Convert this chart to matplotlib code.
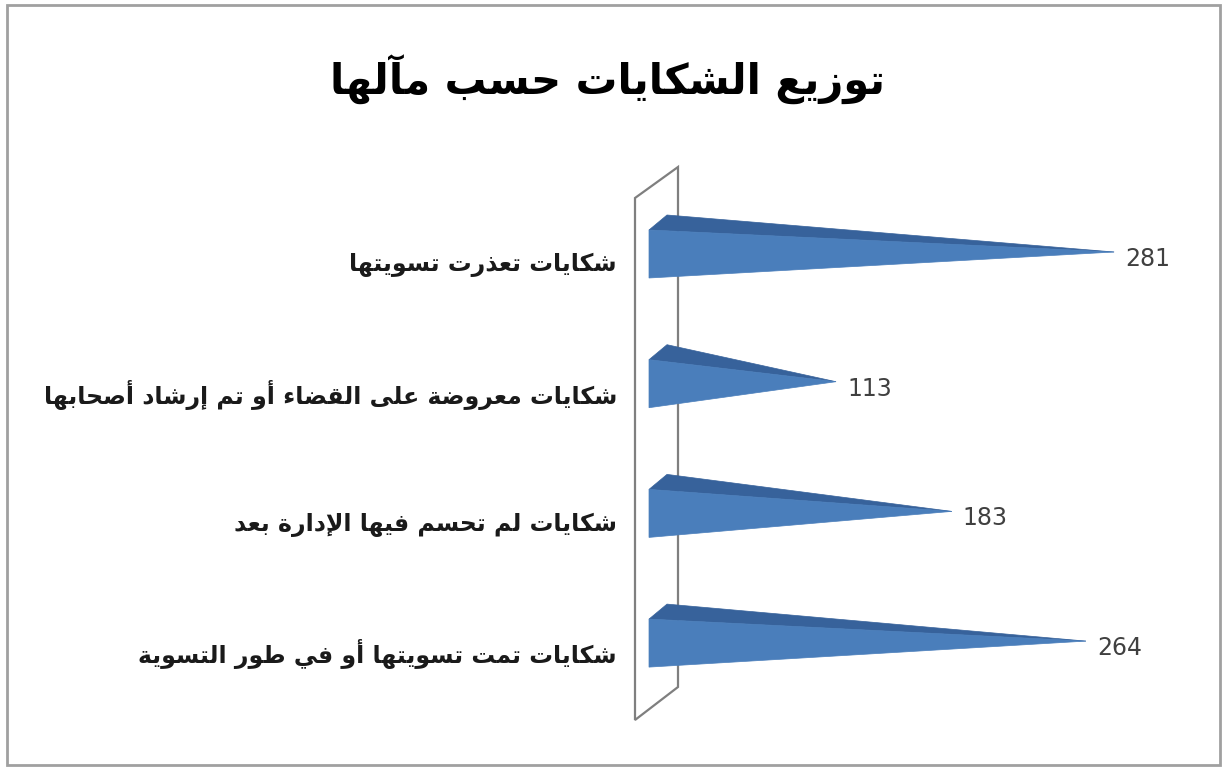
import matplotlib
matplotlib.use("Agg")
import matplotlib.pyplot as plt
from matplotlib.patches import Polygon, Rectangle

# ---------------- data ----------------
title = "توزيع الشكايات حسب مآلها"
categories = [
    "شكايات تعذرت تسويتها",
    "شكايات معروضة على القضاء أو تم إرشاد أصحابها",
    "شكايات لم تحسم فيها الإدارة بعد",
    "شكايات تمت تسويتها أو في طور التسوية",
]
values = [281, 113, 183, 264]

# ---------------- minimal Arabic shaping (matplotlib has no text shaping) ----------------
FORMS = {
    '\u0621': ('\uFE80', None, None, None),
    '\u0622': ('\uFE81', '\uFE82', None, None),
    '\u0623': ('\uFE83', '\uFE84', None, None),
    '\u0624': ('\uFE85', '\uFE86', None, None),
    '\u0625': ('\uFE87', '\uFE88', None, None),
    '\u0626': ('\uFE89', '\uFE8A', '\uFE8B', '\uFE8C'),
    '\u0627': ('\uFE8D', '\uFE8E', None, None),
    '\u0628': ('\uFE8F', '\uFE90', '\uFE91', '\uFE92'),
    '\u0629': ('\uFE93', '\uFE94', None, None),
    '\u062A': ('\uFE95', '\uFE96', '\uFE97', '\uFE98'),
    '\u062B': ('\uFE99', '\uFE9A', '\uFE9B', '\uFE9C'),
    '\u062C': ('\uFE9D', '\uFE9E', '\uFE9F', '\uFEA0'),
    '\u062D': ('\uFEA1', '\uFEA2', '\uFEA3', '\uFEA4'),
    '\u062E': ('\uFEA5', '\uFEA6', '\uFEA7', '\uFEA8'),
    '\u062F': ('\uFEA9', '\uFEAA', None, None),
    '\u0630': ('\uFEAB', '\uFEAC', None, None),
    '\u0631': ('\uFEAD', '\uFEAE', None, None),
    '\u0632': ('\uFEAF', '\uFEB0', None, None),
    '\u0633': ('\uFEB1', '\uFEB2', '\uFEB3', '\uFEB4'),
    '\u0634': ('\uFEB5', '\uFEB6', '\uFEB7', '\uFEB8'),
    '\u0635': ('\uFEB9', '\uFEBA', '\uFEBB', '\uFEBC'),
    '\u0636': ('\uFEBD', '\uFEBE', '\uFEBF', '\uFEC0'),
    '\u0637': ('\uFEC1', '\uFEC2', '\uFEC3', '\uFEC4'),
    '\u0638': ('\uFEC5', '\uFEC6', '\uFEC7', '\uFEC8'),
    '\u0639': ('\uFEC9', '\uFECA', '\uFECB', '\uFECC'),
    '\u063A': ('\uFECD', '\uFECE', '\uFECF', '\uFED0'),
    '\u0641': ('\uFED1', '\uFED2', '\uFED3', '\uFED4'),
    '\u0642': ('\uFED5', '\uFED6', '\uFED7', '\uFED8'),
    '\u0643': ('\uFED9', '\uFEDA', '\uFEDB', '\uFEDC'),
    '\u0644': ('\uFEDD', '\uFEDE', '\uFEDF', '\uFEE0'),
    '\u0645': ('\uFEE1', '\uFEE2', '\uFEE3', '\uFEE4'),
    '\u0646': ('\uFEE5', '\uFEE6', '\uFEE7', '\uFEE8'),
    '\u0647': ('\uFEE9', '\uFEEA', '\uFEEB', '\uFEEC'),
    '\u0648': ('\uFEED', '\uFEEE', None, None),
    '\u0649': ('\uFEEF', '\uFEF0', None, None),
    '\u064A': ('\uFEF1', '\uFEF2', '\uFEF3', '\uFEF4'),
    '\uFEF5': ('\uFEF5', '\uFEF6', None, None),
    '\uFEF7': ('\uFEF7', '\uFEF8', None, None),
    '\uFEF9': ('\uFEF9', '\uFEFA', None, None),
    '\uFEFB': ('\uFEFB', '\uFEFC', None, None),
}
LAM_ALEF = {'\u0622': '\uFEF5', '\u0623': '\uFEF7', '\u0625': '\uFEF9', '\u0627': '\uFEFB'}


def shape(text):
    chars = []
    i = 0
    while i < len(text):
        c = text[i]
        if c == '\u0644' and i + 1 < len(text) and text[i + 1] in LAM_ALEF:
            chars.append(LAM_ALEF[text[i + 1]])
            i += 2
            continue
        chars.append(c)
        i += 1
    out = []
    for i, c in enumerate(chars):
        if c not in FORMS:
            out.append(c)
            continue
        iso, fin, ini, med = FORMS[c]
        prev = chars[i - 1] if i > 0 else None
        nxt = chars[i + 1] if i + 1 < len(chars) else None
        jp = fin is not None and prev in FORMS and FORMS[prev][2] is not None
        jn = ini is not None and nxt in FORMS and FORMS[nxt][1] is not None
        if jp and jn:
            out.append(med)
        elif jp:
            out.append(fin)
        elif jn:
            out.append(ini)
        else:
            out.append(iso)
    return ''.join(reversed(out))


# ---------------- figure ----------------
W, H = 1224, 770
fig = plt.figure(figsize=(W / 100, H / 100), dpi=100)
fig.patch.set_facecolor('white')

# chart border
fig.patches.append(Rectangle((7 / W, 1 - 765 / H), (1220 - 7) / W, (765 - 5) / H,
                             transform=fig.transFigure, fill=False,
                             edgecolor='#a0a0a0', linewidth=2.0))

x0_px, px_per_unit, xmax = 649, 1.655, 340
c0_px, step_px = 254, 129.7
ylo, yhi = -0.5, len(values) - 0.5
ax = fig.add_axes([x0_px / W, 1 - (c0_px + yhi * step_px) / H,
                   px_per_unit * xmax / W, (yhi - ylo) * step_px / H])
ax.set_xlim(0, xmax)
ax.set_ylim(yhi, ylo)
ax.axis('off')

# back wall (3D look)
ux = 1 / px_per_unit
uy = 1 / step_px
xl, xr = (635 - x0_px) * ux, (678 - x0_px) * ux
wall = Polygon([(xl, (198 - c0_px) * uy), (xr, (167 - c0_px) * uy),
                (xr, (687 - c0_px) * uy), (xl, (720 - c0_px) * uy)],
               closed=True, fill=False, edgecolor='#7f7f7f', linewidth=1.6,
               clip_on=False, zorder=1)
ax.add_patch(wall)

# pyramid bars
half = 24 * uy
dx, dy = 18 * ux, 15 * uy
for i, v in enumerate(values):
    tip = (v, i - 2 * uy)
    front = Polygon([(0, i - half), (0, i + half), tip], closed=True,
                    facecolor='#4A7EBB', edgecolor='#4A7EBB', linewidth=0.5,
                    clip_on=False, zorder=3)
    top = Polygon([(0, i - half), (dx, i - half - dy), tip], closed=True,
                  facecolor='#37629B', edgecolor='#37629B', linewidth=0.5,
                  clip_on=False, zorder=2)
    ax.add_patch(top)
    ax.add_patch(front)
    ax.annotate(str(v), xy=(v, i), xytext=(11, -5), textcoords='offset pixels',
                ha='left', va='center', fontsize=17, color='#404040',
                family='DejaVu Sans', annotation_clip=False)
    ax.annotate(shape(categories[i]), xy=(0, i), xytext=(-32, -11),
                textcoords='offset pixels', ha='right', va='center',
                fontsize=17, fontweight='bold', color='#1a1a1a',
                family='DejaVu Sans', annotation_clip=False)

fig.text(607 / W, 1 - 80 / H, shape(title), ha='center', va='center',
         fontsize=30, fontweight='bold', color='black', family='DejaVu Sans')

fig.savefig('out.png', dpi=100, facecolor='white')
